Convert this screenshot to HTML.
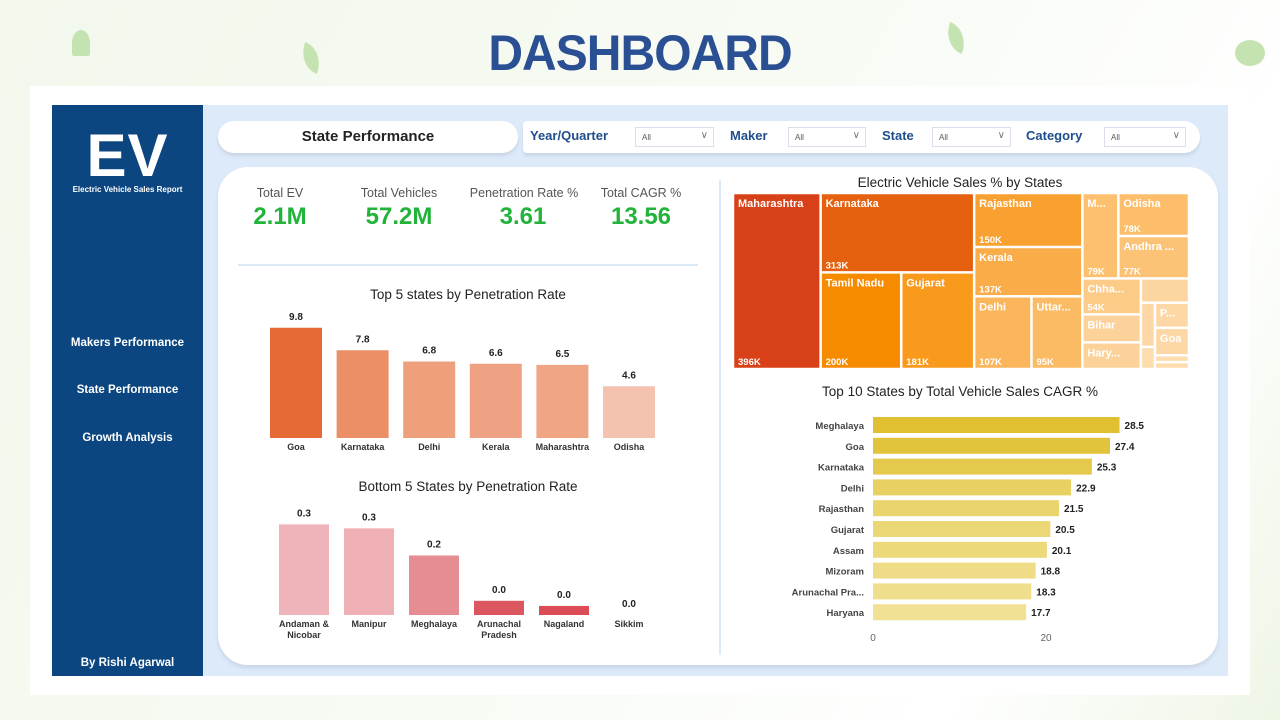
<!DOCTYPE html>
<html><head><meta charset="utf-8">
<style>
*{box-sizing:border-box;margin:0;padding:0}
body{width:1280px;height:720px;overflow:hidden;font-family:"Liberation Sans",sans-serif;background:linear-gradient(120deg,#f2f8ec 0%,#f7fbf4 50%,#ffffff 80%,#eef6e6 100%);position:relative}
.abs{position:absolute}
#title{left:0;width:1280px;top:24px;text-align:center;font-size:50px;font-weight:bold;color:#2a4f93;letter-spacing:-1px;transform:scaleX(0.96)}
#frame{left:30px;top:86px;width:1220px;height:609px;background:#fff}
#inner{left:52px;top:105px;width:1176px;height:571px;background:#ddeafa}
#side{left:52px;top:105px;width:151px;height:571px;background:#0b4680;color:#fff;text-align:center;font-weight:bold}
.nav{position:absolute;left:0;width:151px;font-size:11.5px}
.pill{background:#fff;border-radius:16px;box-shadow:0 3px 3px #c9d6e6}
.flt{position:absolute;top:7px;font-weight:bold;font-size:13px;color:#1f4e8c}
.dd{position:absolute;top:6px;height:20px;border:1px solid #dde;background:#fff;font-size:8px;color:#555;padding:5px 0 0 6px}
.dd:after{content:"\2228";position:absolute;right:5px;top:2px;font-size:10px;color:#777}
#card{left:218px;top:167px;width:1000px;height:498px;background:#fff;border-radius:30px;box-shadow:0 3px 4px #c9d6e6}
.kl{position:absolute;font-size:12.5px;color:#555;text-align:center;width:130px}
.kv{position:absolute;font-size:24px;font-weight:bold;color:#22b43a;text-align:center;width:130px}
.ct{position:absolute;font-size:13.5px;color:#222;text-align:center}
</style></head><body>
<div class="abs" id="title">DASHBOARD</div>
<div class="abs" style="left:300px;top:45px;width:22px;height:26px;background:#c5e3b0;border-radius:0 100% 0 100%;transform:rotate(20deg)"></div>
<div class="abs" style="left:945px;top:25px;width:22px;height:26px;background:#c5e3b0;border-radius:0 100% 0 100%;transform:rotate(20deg)"></div>
<div class="abs" style="left:1235px;top:40px;width:30px;height:26px;background:#c5e3b0;border-radius:50%"></div>
<div class="abs" style="left:72px;top:30px;width:18px;height:26px;background:#c5e3b0;border-radius:50% 50% 10% 10%"></div>
<div class="abs" id="frame"></div>
<div class="abs" id="inner"></div>
<div class="abs" id="side">
  <div style="position:absolute;top:16px;width:151px;font-size:60px;letter-spacing:1px">EV</div>
  <div style="position:absolute;top:80px;width:151px;font-size:8px">Electric Vehicle Sales Report</div>
  <div class="nav" style="top:232px">Makers Performance</div>
  <div class="nav" style="top:279px">State Performance</div>
  <div class="nav" style="top:327px">Growth Analysis</div>
  <div class="nav" style="top:552px">By Rishi Agarwal</div>
</div>
<div class="abs pill" style="left:218px;top:121px;width:300px;height:32px;text-align:center;font-weight:bold;font-size:15px;padding-top:7px;color:#222">State Performance</div>
<div class="abs pill" style="left:523px;top:121px;width:677px;height:32px;border-radius:4px 16px 16px 4px">
  <div class="flt" style="left:7px">Year/Quarter</div>
  <div class="dd" style="left:112px;width:79px">All</div>
  <div class="flt" style="left:207px">Maker</div>
  <div class="dd" style="left:265px;width:78px">All</div>
  <div class="flt" style="left:359px">State</div>
  <div class="dd" style="left:409px;width:79px">All</div>
  <div class="flt" style="left:503px">Category</div>
  <div class="dd" style="left:581px;width:82px">All</div>
</div>
<div class="abs" id="card"></div>
<div class="kl" style="left:215px;top:186px">Total EV</div>
<div class="kv" style="left:215px;top:203px">2.1M</div>
<div class="kl" style="left:334px;top:186px">Total Vehicles</div>
<div class="kv" style="left:334px;top:203px">57.2M</div>
<div class="kl" style="left:459px;top:186px;width:130px">Penetration Rate %</div>
<div class="kv" style="left:458px;top:203px">3.61</div>
<div class="kl" style="left:576px;top:186px">Total CAGR %</div>
<div class="kv" style="left:576px;top:203px">13.56</div>
<div class="abs" style="left:238px;top:264px;width:460px;height:2px;background:#dce9f8"></div>
<div class="abs" style="left:719px;top:180px;width:2px;height:475px;background:#dce9f8"></div>
<div class="ct" style="left:238px;width:460px;top:287px">Top 5 states by Penetration Rate</div>
<div class="ct" style="left:238px;width:460px;top:479px">Bottom 5 States by Penetration Rate</div>
<div class="ct" style="left:730px;width:460px;top:175px">Electric Vehicle Sales % by States</div>
<div class="ct" style="left:730px;width:460px;top:384px">Top 10 States by Total Vehicle Sales CAGR %</div>
<svg class="abs" style="left:0;top:0" width="1280" height="720" id="charts"></svg>
<script>
// Top 5 penetration
const topStates=["Goa","Karnataka","Delhi","Kerala","Maharashtra","Odisha"];
const topValues=[9.8,7.8,6.8,6.6,6.5,4.6];
const topColors=["#e66a35","#eb8f66","#eea07c","#eea283","#f0a585","#f4c3b0"];
// Bottom 5 penetration
const botStates=[["Andaman &","Nicobar"],["Manipur"],["Meghalaya"],["Arunachal","Pradesh"],["Nagaland"],["Sikkim"]];
const botValues=[0.30,0.287,0.197,0.047,0.03,0.0];
const botColors=["#efb4b9","#efb0b5","#e68c93","#dc5660","#dc4c56","#dc4c56"];
// CAGR
const cagrStates=["Meghalaya","Goa","Karnataka","Delhi","Rajasthan","Gujarat","Assam","Mizoram","Arunachal Pra...","Haryana"];
const cagrValues=[28.5,27.4,25.3,22.9,21.5,20.5,20.1,18.8,18.3,17.7];
const cagrColors=["#e0c030","#e2c43c","#e4c94c","#e8d063","#ead46e","#ebd775","#ecd97a","#eedd86","#efdf8c","#f0e194"];
const cagrTicks=[0,20];
// Treemap
const tmNames=["Maharashtra","Karnataka","Tamil Nadu","Gujarat","Rajasthan","Kerala","Delhi","Uttar...","M...","Odisha","Andhra ...","Chha...","Bihar","Hary...","","P...","Goa","J...","","",""];
const tmValues=[396,313,200,181,150,137,107,95,79,78,77,54,42,40,30,22,24,16,8,6,6];
const tmLabels=["396K","313K","200K","181K","150K","137K","107K","95K","79K","78K","77K","54K","","","","","","","","",""];
const tmColors=["#d84117","#e5600f","#f78b00","#f99a1c","#f9a130","#faac48","#fbb65c","#fbba64","#fcc06e","#fcbe6b","#fcc275","#fdcb88","#fdd29a","#fdd29a","#fdd5a0","#fdd8a6","#fdd8a6","#fdd8a6","#fddcae","#fddcae","#fddcae"];
// layout tree (structure only: h = side-by-side, v = stacked)
const tmTree=["h",[0,["v",[1,["h",[2,3]]]],["v",[4,5,["h",[6,7]]]],["v",[["h",[8,["v",[9,10]]]],["h",[["v",[11,12,13]],["v",[14,["h",[["v",[17,18]],["v",[15,16,19,20]]]]]]]]]]]];

const svg=document.getElementById('charts');
const NS="http://www.w3.org/2000/svg";
function mk(tag,attrs,parent){const e=document.createElementNS(NS,tag);for(const k in attrs)e.setAttribute(k,attrs[k]);(parent||svg).appendChild(e);return e;}
function txt(x,y,s,size,weight,fill,anchor){const t=mk('text',{x:x,y:y,'font-size':size,'font-weight':weight,fill:fill,'text-anchor':anchor||'middle','font-family':'Liberation Sans, sans-serif'});t.textContent=s;return t;}

function vbars(names,vals,cols,x0,step,w,base,scale,prefix){
  const y=v=>base-v*scale;
  vals.forEach((v,i)=>{
    const cx=x0+i*step;
    const r=mk('rect',{x:cx-w/2,y:y(v),width:w,height:base-y(v),fill:cols[i]});
    
    
    const l=txt(cx,y(v)-8,v.toFixed(1),10,'bold','#222');
    
    
    const nm=Array.isArray(names[i])?names[i]:[names[i]];
    nm.forEach((s,j)=>{const t=txt(cx,base+12+j*11,s,9,'bold','#333');
      
      });
  });
}
vbars(topStates,topValues,topColors,296,66.6,52,438,11.25,'top5');
vbars(botStates,botValues,botColors,304,65,50,615,302,'bottom5');

const cx0=873, cscale=8.65;
const xc=v=>cx0+v*cscale;
cagrValues.forEach((v,i)=>{
  const cy=425+i*20.8;
  const r=mk('rect',{x:xc(0),y:cy-8,width:xc(v)-xc(0),height:16,fill:cagrColors[i]});
  
  
  const l=txt(xc(v)+5,cy+4,v.toFixed(1),10,'bold','#222','start');
  
  
  const n=txt(864,cy+4,cagrStates[i],9.5,'bold','#444','end');
  
  
});
cagrTicks.forEach(t=>{const e=txt(xc(t),641,String(t),10,'normal','#666');
  
  });

function sum(n){return typeof n==='number'?tmValues[n]:n[1].reduce((a,c)=>a+sum(c),0);}
function lay(n,x,y,w,h){
  if(typeof n==='number'){
    const r=mk('rect',{x:x+0.5,y:y+0.5,width:Math.max(w-1,0),height:Math.max(h-1,0),fill:tmColors[n],stroke:'#fff','stroke-width':1.5});
    
    
    if(tmNames[n]&&w>20&&h>14){const t=txt(x+5,y+14,tmNames[n],11,'bold','#fff','start');
      
      }
    if(tmLabels[n]&&h>30){const t=txt(x+5,y+h-4,tmLabels[n],9.5,'bold','#fff','start');
      
      }
    return;
  }
  const tot=sum(n);let off=0;
  n[1].forEach(c=>{const f=sum(c)/tot;
    if(n[0]==='h'){lay(c,x+off,y,w*f,h);off+=w*f;}else{lay(c,x,y+off,w,h*f);off+=h*f;}});
}
lay(tmTree,733,193,456,176);
</script>
</body></html>
